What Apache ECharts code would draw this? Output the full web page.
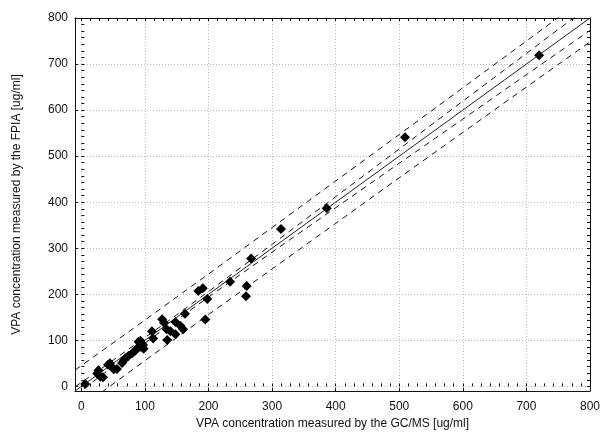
<!DOCTYPE html>
<html><head><meta charset="utf-8">
<script src="https://cdn.jsdelivr.net/npm/echarts@6/dist/echarts.min.js"></script>
<style>html,body{margin:0;padding:0;background:#fff}#c{width:603px;height:437px}</style>
</head><body><div id="c"></div>
<script>
// Tick labels
const xTickLabels = [0, 100, 200, 300, 400, 500, 600, 700, 800];
const yTickLabels = [0, 100, 200, 300, 400, 500, 600, 700, 800];

// Scatter data: GC/MS (x) vs FPIA (y)
const gcmsValues = [6, 25, 27, 30, 34, 42, 45, 48, 51, 56, 64, 67, 69, 74, 80, 85, 88, 90, 93, 93, 95, 97, 98,
  111, 113, 127, 130, 134, 135, 140, 148, 148, 156, 160, 163, 184, 191, 195, 198, 234, 259, 260, 267, 314, 386, 509, 720];
const fpiaValues = [5, 28, 35, 21, 20, 47, 50, 42, 37, 38, 51, 57, 61, 66, 72, 78, 83, 97, 99, 86, 93, 90, 82,
  120, 104, 146, 138, 124, 101, 120, 140, 113, 131, 124, 158, 207, 213, 145, 190, 227, 196, 218, 278, 342, 387, 541, 719];

// Regression line and bands
const bandX     = [-10, 0, 50, 100, 150, 200, 300, 400, 500, 600, 700, 800];
const fitLine   = [-10, 0, 50, 100, 150, 200, 300, 400, 500, 600, 700, 800];
const confUpper = [-1, 8.5, 57, 106, 155.5, 206, 308.5, 412, 515.5, 619.5, 723, 827];
const confLower = [-19, -8.5, 43, 94, 144.5, 194, 291.5, 388, 484.5, 580.5, 677, 773];
const predUpper = [35.5, 45, 94.5, 144, 194, 244, 345, 446, 547, 648.5, 750, 852];
const predLower = [-55.5, -45, 5.5, 56, 106, 156, 255, 354, 453, 551.5, 650, 748];

const xTitle = 'VPA concentration measured by the GC/MS [ug/ml]';
const yTitle = 'VPA concentration measured by the FPIA [ug/ml]';

const minorTicks = [];
for (let k = 0; k <= 56; k++) minorTicks.push(k * 100 / 7);

const FONT = "'Liberation Sans', Arial, sans-serif";
const txt = { fontFamily: FONT, fontSize: 12, color: '#111' };
const frameLine = { show: true, onZero: false, lineStyle: { color: '#111', width: 1 } };

function pairs(xs, ys) { return xs.map((x, i) => [x, ys[i]]); }

const AX = { min: -10, max: 800 };

const chart = echarts.init(document.getElementById('c'), null, { renderer: 'canvas' });
const dashed = (data) => ({
  type: 'line', data: pairs(bandX, data), xAxisIndex: 0, yAxisIndex: 0,
  symbol: 'none', silent: true, clip: true,
  lineStyle: { color: '#111', width: 1, type: [6, 5] }, z: 3
});

chart.setOption({
  animation: false,
  backgroundColor: '#fff',
  grid: { left: 75, right: 12, top: 18, bottom: 46, containLabel: false },
  xAxis: [
    {
      type: 'value', position: 'bottom', ...AX,
      axisLine: frameLine,
      axisTick: { show: true, inside: true, length: 3, customValues: xTickLabels, lineStyle: { color: '#111' } },
      axisLabel: { ...txt, margin: 10, customValues: xTickLabels },
      splitLine: { show: true, lineStyle: { color: '#bdbdbd', type: [1, 2], width: 1 } },
      name: xTitle, nameLocation: 'middle', nameGap: 26,
      nameTextStyle: { ...txt }
    },
    {
      type: 'value', position: 'top', ...AX,
      axisLine: frameLine,
      axisTick: { show: true, inside: true, length: 3, customValues: minorTicks, lineStyle: { color: '#111' } },
      axisLabel: { show: false }, splitLine: { show: false }
    },
    {
      type: 'value', position: 'bottom', ...AX,
      axisLine: { show: false },
      axisTick: { show: true, inside: true, length: 3, customValues: minorTicks, lineStyle: { color: '#111' } },
      axisLabel: { show: false }, splitLine: { show: false }
    }
  ],
  yAxis: [
    {
      type: 'value', position: 'left', ...AX,
      axisLine: frameLine,
      axisTick: { show: true, inside: true, length: 3, customValues: yTickLabels, lineStyle: { color: '#111' } },
      axisLabel: { ...txt, margin: 7, customValues: yTickLabels },
      splitLine: { show: true, lineStyle: { color: '#bdbdbd', type: [1, 2], width: 1 } },
      name: yTitle, nameLocation: 'middle', nameGap: 52,
      nameTextStyle: { ...txt }
    },
    {
      type: 'value', position: 'right', ...AX,
      axisLine: frameLine,
      axisTick: { show: true, inside: true, length: 3, customValues: minorTicks, lineStyle: { color: '#111' } },
      axisLabel: { show: false }, splitLine: { show: false }
    },
    {
      type: 'value', position: 'left', ...AX,
      axisLine: { show: false },
      axisTick: { show: true, inside: true, length: 3, customValues: minorTicks, lineStyle: { color: '#111' } },
      axisLabel: { show: false }, splitLine: { show: false }
    }
  ],
  series: [
    dashed(predUpper), dashed(predLower), dashed(confUpper), dashed(confLower),
    {
      type: 'line', data: pairs(bandX, fitLine), symbol: 'none', silent: true, clip: true,
      lineStyle: { color: '#222', width: 1 }, z: 4
    },
    {
      type: 'scatter', data: pairs(gcmsValues, fpiaValues),
      symbol: 'diamond', symbolSize: [10, 10],
      itemStyle: { color: '#000', opacity: 1 }, z: 5
    }
  ]
});
</script>
</body></html>
